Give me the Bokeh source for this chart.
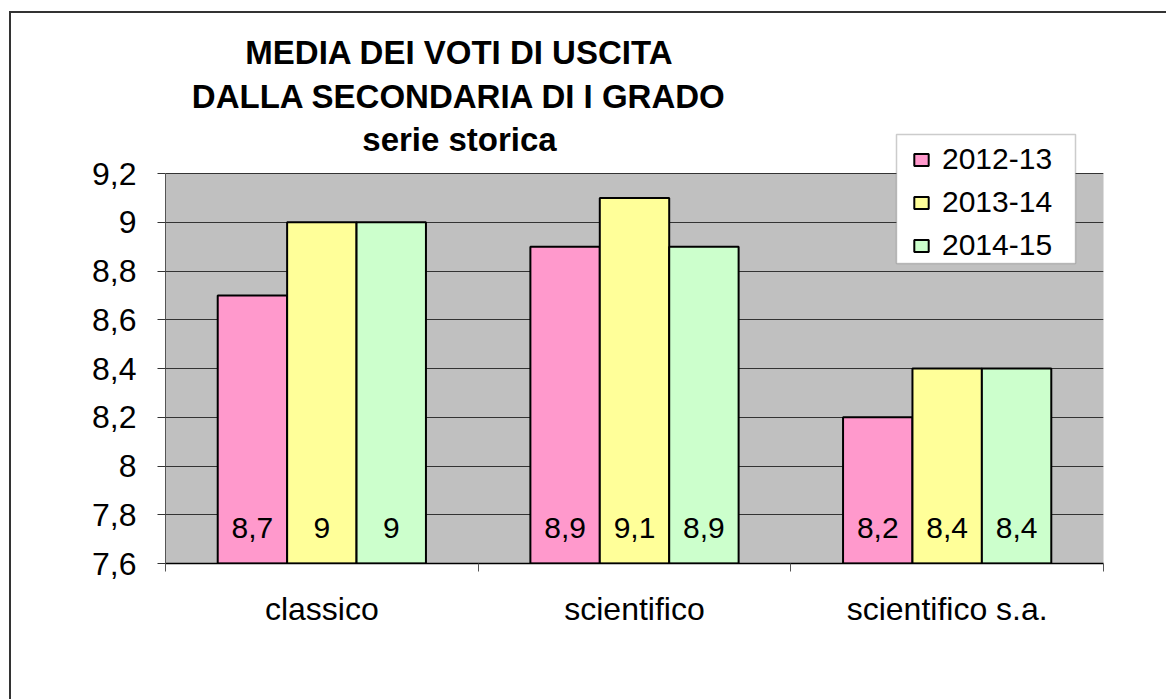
from bokeh.plotting import figure
from bokeh.models import (ColumnDataSource, FixedTicker, CustomJSTickFormatter, LabelSet,
                          Label, Legend, LegendItem, Range1d, BoxAnnotation)
from bokeh.core.properties import value
from bokeh.embed import file_html
from bokeh.resources import INLINE

# ---- data ----
categories = ["classico", "scientifico", "scientifico s.a."]
years = ["2012-13", "2013-14", "2014-15"]
v_2012_13 = [8.7, 8.9, 8.2]
v_2013_14 = [9.0, 9.1, 8.4]
v_2014_15 = [9.0, 8.9, 8.4]
y_ticks = [7.6, 7.8, 8.0, 8.2, 8.4, 8.6, 8.8, 9.0, 9.2]
title_lines = ["MEDIA DEI VOTI DI USCITA", "DALLA SECONDARIA DI I GRADO", "serie storica"]

# ---- style ----
colors = ["#FF99CC", "#FFFF99", "#CCFFCC"]
FONT = "Liberation Sans"
BAR_W = 0.222
FRAME_W = 938
PLOT_H = 390          # height of the grey plotting area
FRAME_H = 541         # frame also holds the title / legend area above it
y_lo, y_hi = y_ticks[0], y_ticks[-1]
y_top = y_hi + (FRAME_H - PLOT_H) / PLOT_H * (y_hi - y_lo)

p = figure(frame_width=FRAME_W, frame_height=FRAME_H,
           x_range=Range1d(0, len(categories)), y_range=Range1d(y_lo, y_top),
           output_backend="svg", toolbar_location=None,
           min_border_left=154, min_border_top=9, min_border_right=63, min_border_bottom=136,
           background_fill_color="white", border_fill_color="white",
           outline_line_color=None)
p.styles = {"margin-left": "9px", "margin-top": "11px",
            "border-left": "2px solid #333333", "border-top": "2px solid #333333"}

# grey plotting area (behind the grid)
plot_bg = BoxAnnotation(left=0, right=len(categories), bottom=y_lo, top=y_hi,
                        fill_color="#C0C0C0", fill_alpha=1, line_color="#808080",
                        line_width=1, level="underlay")
p.center = [plot_bg] + list(p.center)

series = [v_2012_13, v_2013_14, v_2014_15]
items = []
for j, (vals, name, col) in enumerate(zip(series, years, colors)):
    xs = [i + 0.5 + (j - 1) * BAR_W for i in range(len(categories))]
    src = ColumnDataSource(dict(x=xs, top=vals, base=[y_lo] * len(vals),
                                label=[("%g" % v).replace(".", ",") for v in vals]))
    r = p.vbar(x="x", top="top", bottom=y_lo, width=BAR_W, source=src,
               fill_color=col, line_color="black", line_width=2)
    items.append(LegendItem(label=name, renderers=[r]))
    p.add_layout(LabelSet(x="x", y="base", text="label", source=src, y_offset=36,
                          text_align="center", text_baseline="middle",
                          text_font=value(FONT), text_font_size=value("30px"),
                          text_color="black"))

# y axis
p.yaxis.ticker = FixedTicker(ticks=y_ticks)
p.yaxis.bounds = (y_lo, y_hi)
p.yaxis.formatter = CustomJSTickFormatter(
    code="return tick.toFixed(1).replace(/\\.0$/, '').replace('.', ',');")
p.yaxis.major_label_text_font = FONT
p.yaxis.major_label_text_font_size = "32px"
p.yaxis.major_label_text_color = "black"
p.yaxis.major_label_standoff = 21
p.yaxis.major_tick_in = 0
p.yaxis.major_tick_out = 8
p.yaxis.major_tick_line_color = "#333333"
p.yaxis.minor_tick_line_color = None
p.yaxis.axis_line_color = "#555555"

# x axis
p.xaxis.ticker = FixedTicker(ticks=[i + 0.5 for i in range(len(categories))],
                             minor_ticks=list(range(len(categories) + 1)))
p.xaxis.major_label_overrides = {i + 0.5: c for i, c in enumerate(categories)}
p.xaxis.major_tick_line_color = None
p.xaxis.major_tick_out = 8
p.xaxis.major_tick_in = 0
p.xaxis.minor_tick_in = 0
p.xaxis.minor_tick_out = 8
p.xaxis.minor_tick_line_color = "#555555"
p.xaxis.axis_line_color = "black"
p.xaxis.axis_line_width = 1.5
p.xaxis.major_label_text_font = FONT
p.xaxis.major_label_text_font_size = "32px"
p.xaxis.major_label_text_color = "black"
p.xaxis.major_label_standoff = 19

p.xgrid.visible = False
p.ygrid.grid_line_color = "#333333"
p.ygrid.grid_line_width = 1
p.ygrid.bounds = (y_lo, y_hi)

# title (three centred lines, screen px relative to the frame's bottom-left)
title_cx = 294
title_ys = [511, 467, 424]
for t, ty in zip(title_lines, title_ys):
    p.add_layout(Label(x=title_cx, y=ty, x_units="screen", y_units="screen", text=t,
                       text_align="center", text_baseline="middle", text_font=FONT,
                       text_font_size="33px", text_font_style="bold", text_color="black"))

# legend frame (screen px relative to the frame's bottom-left)
legend_box = BoxAnnotation(left=731, right=910, bottom=300, top=429,
                           left_units="screen", right_units="screen",
                           bottom_units="screen", top_units="screen",
                           fill_color="white", fill_alpha=1,
                           line_color="#555555", line_width=1.5)
p.add_layout(legend_box)

legend = Legend(items=items, location=(747, 301), border_line_color=None,
                background_fill_alpha=0,
                label_text_font=FONT, label_text_font_size="30px", label_text_color="black",
                glyph_width=18, glyph_height=15, label_height=30,
                spacing=9, padding=4, label_standoff=12, margin=0)
p.add_layout(legend)

open("out.html", "w").write(file_html(p, INLINE))
